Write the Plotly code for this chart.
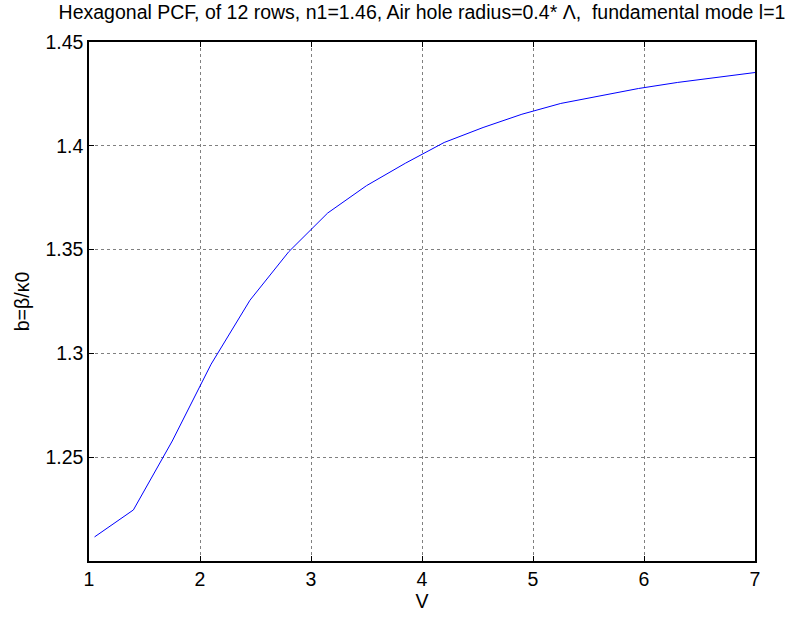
import plotly.graph_objects as go

V = [1.05, 1.40, 1.75, 2.10, 2.45, 2.80, 3.15, 3.50, 3.85, 4.20, 4.55, 4.90,
     5.25, 5.60, 5.95, 6.30, 6.65, 7.00]
b = [1.2116, 1.2246, 1.2578, 1.2948, 1.3256, 1.3490, 1.3676, 1.3808, 1.3916,
     1.4016, 1.4088, 1.4152, 1.4204, 1.4240, 1.4276, 1.4305, 1.4330, 1.4353]

x_ticks = [1, 2, 3, 4, 5, 6, 7]
y_ticks = [1.25, 1.3, 1.35, 1.4, 1.45]
y_ticklabels = ["1.25", "1.3", "1.35", "1.4", "1.45"]

title_text = "Hexagonal PCF, of 12 rows, n1=1.46, Air hole radius=0.4* Λ,  fundamental mode l=1"

FONT = "Liberation Sans, Arial, Helvetica, sans-serif"
FS = 19.5

fig = go.Figure()
fig.add_trace(go.Scatter(x=V, y=b, mode="lines",
                         line=dict(color="#0000ff", width=1),
                         showlegend=False))

axis_common = dict(
    showline=True, linecolor="black", linewidth=1.5, mirror="ticks",
    ticks="inside", ticklen=5, tickcolor="black", tickwidth=1,
    showgrid=True, gridcolor="#808080", griddash="dot", gridwidth=1,
    zeroline=False,
    tickfont=dict(family=FONT, size=FS, color="black"),
)

fig.update_xaxes(range=[1, 7], tickvals=x_ticks,
                 ticktext=[str(t) for t in x_ticks],
                 title=dict(text="V", font=dict(family=FONT, size=FS, color="black"),
                            standoff=4),
                 **axis_common)
fig.update_yaxes(range=[1.2, 1.45], tickvals=y_ticks, ticktext=y_ticklabels,
                 title=dict(text="b=β/κ0", font=dict(family=FONT, size=FS, color="black"),
                            standoff=11),
                 **axis_common)

fig.update_layout(
    width=798, height=620,
    margin=dict(l=89, r=43, t=42, b=53),
    paper_bgcolor="white", plot_bgcolor="white",
    title=dict(text=title_text, x=(89 + 755) / 2 / 798, xanchor="center",
               y=1 - 12 / 620, yanchor="middle",
               font=dict(family=FONT, size=FS, color="black")),
)

fig.write_html("out.html")
